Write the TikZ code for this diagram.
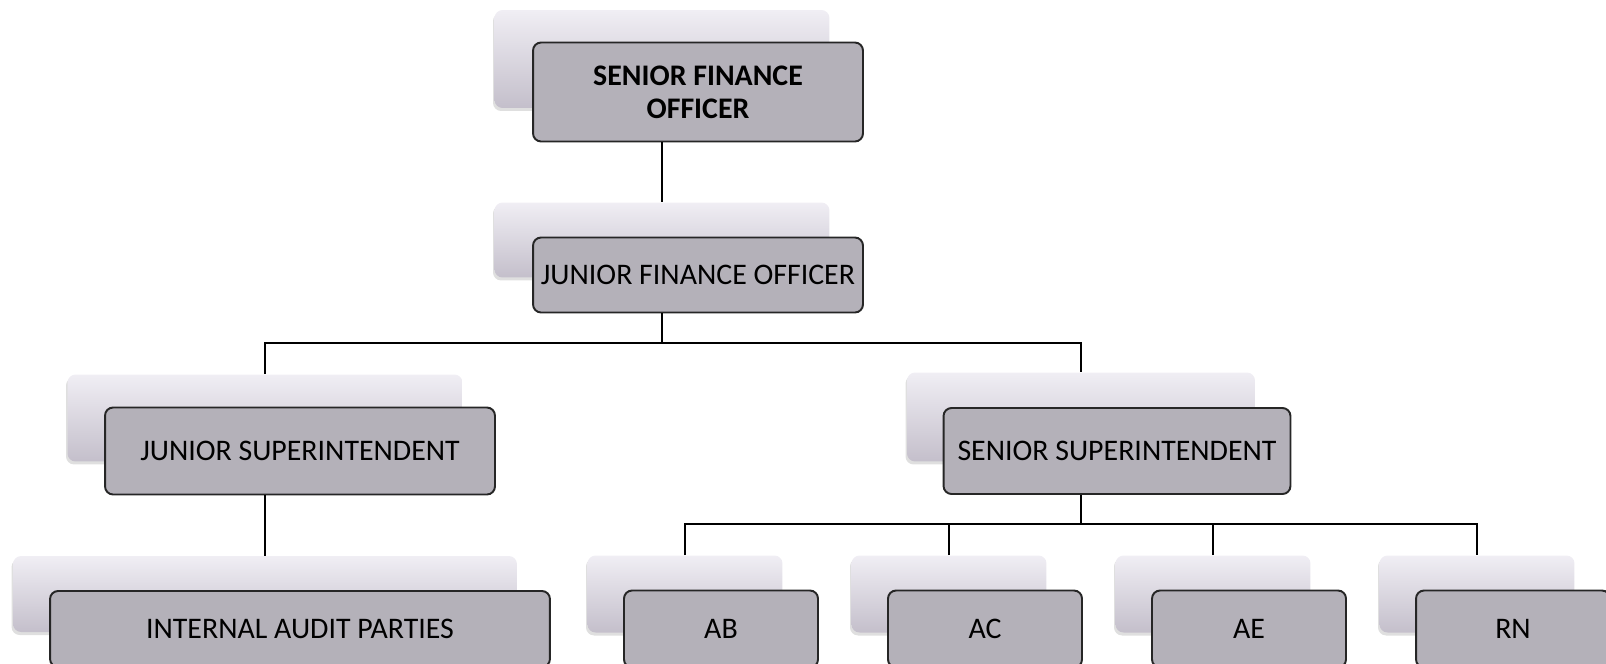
\documentclass[tikz,border=0pt]{standalone}
\usepackage{fontspec}
\setmainfont{Carlito}
\usetikzlibrary{shadows}
\definecolor{frontfill}{RGB}{180,177,185}
\definecolor{backtop}{RGB}{240,238,244}
\definecolor{backbottom}{RGB}{196,191,203}
\tikzset{
	backbox/.style={rounded corners=0.16cm, top color=backtop, bottom color=backbottom, inner sep=0pt,
		drop shadow={opacity=0.25, shadow xshift=-0.03cm, shadow yshift=-0.06cm}},
	frontbox/.style={rounded corners=0.16cm, draw=black!85, line width=1.1pt, fill=frontfill, inner sep=0pt,
		align=center, font=\fontsize{17}{19}\selectfont},
	link/.style={black, line width=1.1pt}
}
\begin{document}
\begin{tikzpicture}[x=0.02cm, y=-0.02cm]
	\useasboundingbox (0,0) rectangle (1606,663);
	% Officers
	\node [backbox, minimum width=6.7cm, minimum height=1.96cm] (sfoB) at (662,59) {};
	\node [frontbox, minimum width=6.6cm, minimum height=1.98cm] (sfo) at ([shift={(36,33)}]sfoB) {\bfseries SENIOR FINANCE\\ \bfseries OFFICER};
	\node [backbox, minimum width=6.7cm, minimum height=1.5cm] (jfoB) at (662,240) {};
	\node [frontbox, minimum width=6.6cm, minimum height=1.5cm] (jfo) at ([shift={(36,35)}]jfoB) {JUNIOR FINANCE OFFICER};
	% Superintendents
	\node [backbox, minimum width=7.9cm, minimum height=1.74cm] (jsB) at (265,418) {};
	\node [frontbox, minimum width=7.8cm, minimum height=1.74cm] (js) at ([shift={(35,33)}]jsB) {JUNIOR SUPERINTENDENT};
	\node [backbox, minimum width=6.96cm, minimum height=1.78cm] (ssB) at (1081,417) {};
	\node [frontbox, minimum width=6.94cm, minimum height=1.72cm] (ss) at ([shift={(36,34)}]ssB) {SENIOR SUPERINTENDENT};
	% Bottom row
	\node [backbox, minimum width=10.08cm, minimum height=1.52cm] (iapB) at (265,594) {};
	\node [frontbox, minimum width=10cm, minimum height=1.52cm] (iap) at ([shift={(35,35)}]iapB) {INTERNAL AUDIT PARTIES};
	\node [backbox, minimum width=3.9cm, minimum height=1.54cm] (abB) at (685,594) {};
	\node [frontbox, minimum width=3.88cm, minimum height=1.54cm] (ab) at ([shift={(36,35)}]abB) {AB};
	\node [backbox, minimum width=3.9cm, minimum height=1.54cm] (acB) at (949,594) {};
	\node [frontbox, minimum width=3.88cm, minimum height=1.54cm] (ac) at ([shift={(36,35)}]acB) {AC};
	\node [backbox, minimum width=3.9cm, minimum height=1.54cm] (aeB) at (1213,594) {};
	\node [frontbox, minimum width=3.88cm, minimum height=1.54cm] (ae) at ([shift={(36,35)}]aeB) {AE};
	\node [backbox, minimum width=3.9cm, minimum height=1.54cm] (rnB) at (1477,594) {};
	\node [frontbox, minimum width=3.88cm, minimum height=1.54cm] (rn) at ([shift={(36,35)}]rnB) {RN};
	% Connectors
	\draw [link] (sfoB.center |- sfo.south) -- (jfoB.north);
	\draw [link] (jfoB.center |- jfo.south) -- (662,343) coordinate (jfoJ);
	\draw [link] (jsB.north) |- (jfoJ) -| (ssB.north);
	\draw [link] (jsB.center |- js.south) -- (iapB.north);
	\draw [link] (ssB.center |- ss.south) -- (1081,524) coordinate (ssJ);
	\draw [link] (abB.north) |- (ssJ) -| (rnB.north);
	\draw [link] (acB.north) -- (acB.north |- ssJ);
	\draw [link] (aeB.north) -- (aeB.north |- ssJ);
\end{tikzpicture}
\end{document}
